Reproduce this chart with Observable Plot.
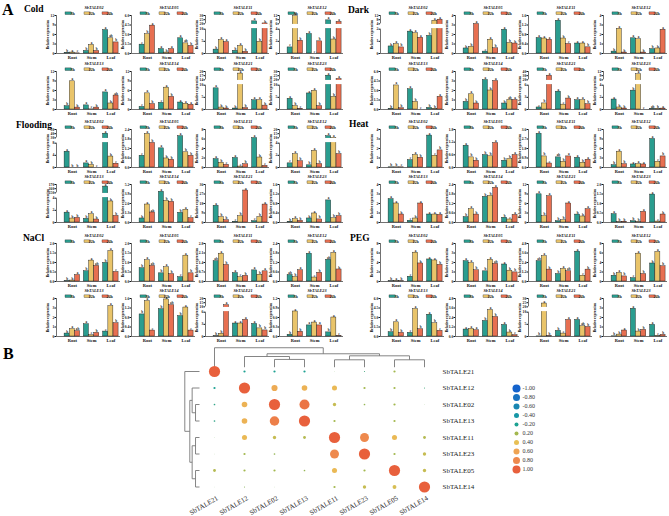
<!DOCTYPE html>
<html><head><meta charset="utf-8">
<script src="https://cdn.jsdelivr.net/npm/d3@7"></script>
<script src="https://cdn.jsdelivr.net/npm/@observablehq/plot@0.6"></script>
<style>
body{margin:0;background:#fff;}
#root{position:relative;width:669px;height:516px;overflow:hidden;font-family:"Liberation Serif",serif;background:#fff;}
#root svg{position:absolute;}
.lab{position:absolute;font-weight:bold;line-height:1;white-space:nowrap;font-family:"Liberation Serif",serif;}
</style></head><body><div id="root"></div>
<script>
const tissues = ["Root", "Stem", "Leaf"];
const times = ["3h", "12h", "24h"];
const timeColors = ["#2a9d8f", "#e9c46a", "#e76f51"];
const genes = ["SbTALE02","SbTALE05","SbTALE11","SbTALE12","SbTALE13","SbTALE14","SbTALE21","SbTALE23"];

// each chart: [Root 3h,12h,24h, Stem 3h,12h,24h, Leaf 3h,12h,24h]
const coldValues = [
  [0.2,0.3,0.05, 0.8,2.7,0.8, 7.4,4.8,3.5],
  [1.4,3.05,4.4, 0.7,0.15,0.7, 2.4,1.6,1.2],
  [1.6,5.5,4.7, 1.1,3.1,0.7, 23,4.8,20.5],
  [1.0,11.5,2.1, 3.2,0,2.0, 8.5,2.3,7.4],
  [1.05,8.9,0.6, 1.3,0.05,0.6, 5.4,1.9,4.4],
  [0.8,5.1,1.7, 2.1,6.9,4.0, 2.2,1.8,1.5],
  [8.7,0.8,0.4, 0.4,18.5,0.6, 3.8,3.8,1.6],
  [4.4,1.4,0.3, 6.6,7.7,1.4, 25,5.2,21]
];
const coldAxes = [
  [0,3,6,9,12], [0,1.5,3,4.5,6], {low:[0,5,10], high:[20,25,30]}, {low:[0,2,4], high:[6,9,12]},
  [0,3,6,9,12], [0,3,6,9,12], {low:[0,5,10], high:[14,17,20]}, {low:[0,5,10], high:[20,25,30]}
];
const coldLetters = [
  "b a c b a b a ab b", "c b a a b a a ab b", "b a a b a b a b b", "c a b a c b a b a",
  "b a b a c b a b ab", "c a b c a b a a a", "a b b b a b a a b", "a b c a a b a b a"
];

const darkValues = [
  [0.58,0.77,0.5, 1.8,1.67,1.3, 1.45,7,8],
  [0.53,0.7,3.1, 0.2,1.45,0.55, 2.5,1.1,1.05],
  [0.65,0.63,0.58, 1.38,0.63,0.4, 0.42,0.42,0.26],
  [0.2,2.6,0.1, 1.6,1.5,0.1, 0.46,0.53,2.5],
  [0.1,3.8,0.2, 3.2,1.2,0, 0.25,0.1,2.0],
  [0.8,1.6,0.63, 3.1,2.0,3.0, 0.63,1.0,1.0],
  [0.5,1.5,30, 4.4,1.2,2.7, 2.3,2.3,1.3],
  [1.64,0.33,0.16, 3.1,10,0, 0.1,0.1,0.15]
];
const darkAxes = [
  {low:[0,1,2], high:[4,8,12]}, [0,1,2,3,4], [0,0.4,0.8,1.2,1.6], [0,1,2,3,4],
  [0,1.5,3,4.5,6], [0,1,2,3,4], {low:[0,3,6], high:[20,30,40]}, {low:[0,2,4], high:[6,9,12]}
];
const darkLetters = [
  "b a b a a a b a a", "b b a c a b a b b", "a a a a b c a a b", "b a b a a b b b a",
  "b a b a b c b b a", "b a b a b a b ab a", "c b a a c b a a b", "a b b b a c ab b a"
];

const floodingValues = [
  [5.2,0,0, 1.35,0.83,0, 40,3.6,1.25],
  [0.74,2.12,1.55, 1.21,0.57,0.49, 1.98,0.96,0.74],
  [1.77,1.0,0.57, 2.0,0.2,0.7, 6.2,2.1,0.35],
  [0.68,2.2,1.04, 0.36,2.75,0.57, 12,10,2.2],
  [1.62,0.65,0.76, 0.6,1.35,0.49, 165,3.46,1.08],
  [0.55,2.46,1.37, 4.2,2.96,2.83, 1.32,1.73,0.6],
  [15.8,5.1,2.2, 0.6,6.0,30.3, 1.3,5.1,17],
  [0.03,0.14,0.07, 0.17,0.38,0.13, 0.93,0.18,0.27]
];
const floodingAxes = [
  {low:[0,4,8], high:[30,40,50]}, [0,0.6,1.2,1.8,2.4], [0,2,4,6,8], {low:[0,2,4], high:[10,15,20]},
  {low:[0,2,4], high:[150,160,170]}, [0,1.3,2.6,3.9,5.2], [0,9,18,27,36], [0,0.4,0.8,1.2,1.6]
];
const floodingLetters = [
  "a b b a b c a b c", "c a b a b b a b b", "a b c a c b a b c", "c a b b a b a a b",
  "a b b b a b a b b", "b a ab a b b b a c", "a b b c b a c b a", "b a b b a b a b b"
];

const heatValues = [
  [0.02,0.02,0.02, 0.78,1.31,1.03, 3.36,1.24,1.8],
  [1.03,0.48,0.32, 0.59,0.53,1.16, 0.32,0.4,0.59],
  [3.19,1.05,0.38, 0.96,0.54,1.05, 0.92,0.45,0.73],
  [0.74,5.0,1.06, 0.96,1.06,0.96, 9.0,1.8,3.5],
  [2.46,2.0,0.84, 0.18,0.42,2.0, 0.84,0.84,0.8],
  [0.34,0.84,0.5, 1.62,1.68,2.19, 0.3,0.19,0.48],
  [8.9,2.0,8.3, 0.42,0.74,6.0, 2.5,1.9,4.2],
  [0.44,0.02,0.04, 0.07,0.02,0.56, 1.47,0.05,0.42]
];
const heatAxes = [
  [0,1,2,3,4], [0,0.6,1.2,1.8], [0,0.9,1.8,2.7,3.6], [0,3,6,9,12],
  [0,1,2,3,4], [0,0.6,1.2,1.8,2.4], [0,3,6,9,12], [0,0.5,1,1.5,2]
];
const heatLetters = [
  "b b c c a b a c b", "a b b b b a b b a", "a b c ab b a a b a", "b a b a a a a c b",
  "a a b c b a a a a", "b a b b b a b c a", "a b a b b a b b a", "a b b b b a a c b"
];

const naclValues = [
  [0.02,0.05,0.34, 0.54,1.1,0.82, 0.98,1.6,0.5],
  [0.7,1.12,0.82, 0.43,0.75,0.39, 0.23,1.36,0.43],
  [1.5,2.05,1.22, 0.62,0.32,0.42, 0.82,0.5,0.75],
  [0.41,0.28,0.71, 1.75,0.25,0.55, 1.37,1.8,0.76],
  [0.31,0.77,0.56, 1.29,0.14,0.38, 0.52,3.2,1.4],
  [0.93,1.49,0.25, 1.15,1.56,1.32, 0.86,1.22,0.25],
  [0.05,0.69,12, 3.2,3.2,4.1, 3.1,2.0,1.5],
  [0.055,0.79,0.15, 0.35,0.44,0.35, 0.13,0.6,0.02]
];
const naclAxes = [
  [0,0.5,1,1.5,2], [0,0.5,1,1.5,2], [0,0.7,1.4,2.1,2.8], [0,0.6,1.2,1.8,2.4],
  [0,1,2,3,4], [0,0.4,0.8,1.2,1.6], {low:[0,3,6], high:[10,15,20]}, [0,0.3,0.6,0.9,1.2]
];
const naclLetters = [
  "b b a b a ab b a c", "b a ab b a b c a b", "ab a b a c b a b a", "ab b a a c b ab a b",
  "b a ab a c b c a b", "b a c b a ab b a c", "b b a a a a a b b", "b a b a a a b a c"
];

const pegValues = [
  [0.05,0.1,0.05, 1.0,6.07,3.8, 4.64,4.43,3.5],
  [2.14,1.93,1.18, 1.07,2.29,1.86, 1.79,1.14,0.96],
  [2.57,3.2,1.5, 0.94,1.59,1.29, 3.77,0.73,1.5],
  [1.21,1.79,1.07, 0.71,5.86,1.57, 3.79,6.2,3.2],
  [0.68,2.24,0.57, 0.57,4.33,1.15, 3.44,2.09,0.89],
  [0.88,0.96,0.79, 1.96,3.34,2.46, 1.46,0.5,0.17],
  [0.05,24,0.2, 2.3,1.2,6.8, 6.8,4.2,3.9],
  [0.02,0.2,0.63, 2.92,0.52,0.7, 1.22,0.05,0.17]
];
const pegAxes = [
  [0,2,4,6,8], [0,1,2,3,4], [0,1.2,2.4,3.6,4.8], [0,2,4,6,8],
  [0,1.5,3,4.5,6], [0,1.2,2.4,3.6,4.8], {low:[0,5,10], high:[20,25,30]}, [0,1,2,3,4]
];
const pegLetters = [
  "b a b c a b a a b", "a a b b a ab a b b", "ab a b b a ab a c b", "b a b c a b b a b",
  "b a b c a b a b c", "a a a b a b a b c", "b a b b c a a ab b", "b b a a b b a c b"
];

// Panel B: correlation matrix (rows and columns in the same order)
const corrGenes = ["SbTALE21","SbTALE12","SbTALE02","SbTALE13","SbTALE11","SbTALE23","SbTALE05","SbTALE14"];
const corrRows = [
  [1.0,-0.2,-0.2,-0.2,0.05,-0.1,0.2,0],
  [-0.2,1.0,0.55,0.5,0.45,0.2,0.2,-0.1],
  [-0.15,0.5,1.0,0.9,0.3,0.15,0.2,0.05],
  [-0.15,0.5,0.85,1.0,0.2,0,0.2,0],
  [0.05,0.45,0.3,0.25,1.0,0.8,0.45,0.25],
  [0.05,0.2,0.15,0,0.8,1.0,0.2,0.3],
  [0.25,0.2,0.2,0.15,0.45,0.2,1.0,0.3],
  [0.03,0.1,0.05,0,0.2,0.3,0.35,1.0]
];
const colTree = {h:1, c:[0,{h:0.69,c:[{h:0.55,c:[1,{h:0.40,c:[2,3]}]},{h:0.585,c:[{h:0.38,c:[4,5]},{h:0.38,c:[6,7]}]}]}]};
const rowTree = {h:1, c:[0,{h:0.66,c:[{h:0.50,c:[1,{h:0.27,c:[2,3]}]},{h:0.50,c:[{h:0.27,c:[4,5]},{h:0.27,c:[6,7]}]}]}]};
const legendValues = [-1,-0.8,-0.6,-0.4,-0.2,0.2,0.4,0.6,0.8,1];
const legendLabels = ["-1.00","-0.80","-0.60","-0.40","-0.20","0.20","0.40","0.60","0.80","1.00"];
const corrColorDomain = [-1,-0.8,-0.6,-0.4,-0.2,0,0.2,0.4,0.6,0.8,1];
const corrColorRange = ["#1463cc","#1872c2","#1886b2","#1797a6","#1da292","#6fae6c","#a3b84f","#e8c055","#efa453","#ee894d","#e8603c"];

// ---------- layout ----------
const root = document.getElementById("root");
const ML = 14, MR = 6, MT = 10, MB = 8, PH = 38, W = 84;
const leftAxes = [56, 131, 205, 279];
const rightAxes = [380, 455, 528, 603];
const rowTops = [14.7, 71.3, 129, 184.3, 242.7, 298.3];
const FONT = "Liberation Serif";

function addChart(gene, vals, axis, letterStr, axisX, plotTop) {
  const letters = letterStr.split(" ");
  const broken = !Array.isArray(axis);
  let t, ticks, segs, band = null;
  if (broken) {
    const L = axis.low[axis.low.length - 1], H1 = axis.high[0], H2 = axis.high[axis.high.length - 1];
    t = v => v <= L ? 0.64 * v / L : v < H1 ? 0.64 + 0.14 * (v - L) / (H1 - L) : 0.78 + 0.22 * (v - H1) / (H2 - H1);
    ticks = axis.low.concat(axis.high);
    segs = [[0, 0.64], [0.78, 1]];
    band = [0.655, 0.765];
  } else {
    const M = axis[axis.length - 1];
    t = v => v / M;
    ticks = axis;
    segs = [[0, 1]];
  }
  const dec = ticks.some(v => !Number.isInteger(v));
  const fmt = v => dec ? v.toFixed(1) : String(v);
  const tickPos = ticks.map(t);
  const labelOf = new Map(tickPos.map((p, i) => [p, fmt(ticks[i])]));
  const data = vals.map((v, k) => ({tissue: Math.floor(k / 3), time: k % 3, y: Math.min(t(v), 1), letter: letters[k]}));
  const cx = d => d.tissue + (d.time - 1) * 0.27;
  const marks = [
    Plot.rect(data, {x1: d => cx(d) - 0.13, x2: d => cx(d) + 0.13, y1: () => 0, y2: "y",
      fill: "time", stroke: "#111", strokeWidth: 0.4}),
  ];
  if (band) marks.push(Plot.rect([band], {y1: d => d[0], y2: d => d[1], fill: "white"}));
  marks.push(
    Plot.ruleX(segs, {x: () => -0.82, y1: d => d[0], y2: d => d[1], stroke: "#111", strokeWidth: 0.6}),
    Plot.ruleY([0], {stroke: "#111", strokeWidth: 0.6}),
    Plot.axisY({ticks: tickPos, tickFormat: p => labelOf.get(p), tickSize: 1.5, tickPadding: 0.8,
      label: "Relative expression", labelAnchor: "center", labelOffset: 10, labelArrow: "none", fontSize: 3.6}),
    Plot.axisX({ticks: [0, 1, 2], tickFormat: i => tissues[i], tickSize: 0, tickPadding: 2.2, label: null, fontSize: 4.5}),
    Plot.text(data, {x: cx, y: "y", text: "letter", dy: -2, fontSize: 3.3, fill: "#111"})
  );
  const svgEl = Plot.plot({
    width: W, height: PH + MT + MB,
    marginLeft: ML, marginRight: MR, marginTop: MT, marginBottom: MB,
    x: {type: "linear", domain: [-0.82, 2.5]},
    y: {type: "linear", domain: [0, 1]},
    color: {type: "ordinal", domain: [0, 1, 2], range: timeColors},
    style: {background: "transparent", fontFamily: FONT, fontWeight: "bold", fontSize: "4px", color: "#111", overflow: "visible"},
    marks
  });
  const s = d3.select(svgEl);
  s.append("text").attr("x", ML + 38).attr("y", MT - 5.7).attr("text-anchor", "middle")
    .attr("font-style", "italic").attr("font-weight", "bold").attr("font-size", 4.2).attr("fill", "#111").text(gene);
  const offs = [9, 28, 46];
  times.forEach((tm, j) => {
    const x0 = ML + offs[j];
    s.append("rect").attr("x", x0).attr("y", MT - 3.1).attr("width", 6.5).attr("height", 2.6)
      .attr("fill", timeColors[j]).attr("stroke", "#111").attr("stroke-width", 0.3);
    s.append("text").attr("x", x0 + 7.5).attr("y", MT - 0.4).attr("font-size", 4).attr("font-weight", "bold")
      .attr("fill", "#111").text(tm);
  });
  svgEl.style.left = (axisX - ML) + "px";
  svgEl.style.top = (plotTop - MT) + "px";
  root.appendChild(svgEl);
}

const treatments = [
  {name: "Cold", values: coldValues, axes: coldAxes, letters: coldLetters, cols: leftAxes, row: 0, lx: 24, ly: 5},
  {name: "Dark", values: darkValues, axes: darkAxes, letters: darkLetters, cols: rightAxes, row: 0, lx: 348, ly: 6},
  {name: "Flooding", values: floodingValues, axes: floodingAxes, letters: floodingLetters, cols: leftAxes, row: 2, lx: 16, ly: 121},
  {name: "Heat", values: heatValues, axes: heatAxes, letters: heatLetters, cols: rightAxes, row: 2, lx: 349, ly: 120},
  {name: "NaCl", values: naclValues, axes: naclAxes, letters: naclLetters, cols: leftAxes, row: 4, lx: 23, ly: 234},
  {name: "PEG", values: pegValues, axes: pegAxes, letters: pegLetters, cols: rightAxes, row: 4, lx: 350, ly: 234}
];

treatments.forEach(tr => {
  genes.forEach((g, k) => {
    addChart(g, tr.values[k], tr.axes[k], tr.letters[k], tr.cols[k % 4], rowTops[tr.row + Math.floor(k / 4)]);
  });
  const d = document.createElement("div");
  d.className = "lab";
  d.style.left = tr.lx + "px"; d.style.top = tr.ly + "px"; d.style.fontSize = "9.5px";
  d.textContent = tr.name;
  root.appendChild(d);
});

[["A", 2, 2], ["B", 3, 346]].forEach(([txt, x, y]) => {
  const d = document.createElement("div");
  d.className = "lab";
  d.style.left = x + "px"; d.style.top = y + "px"; d.style.fontSize = "16px";
  d.textContent = txt;
  root.appendChild(d);
});

// ---------- Panel B ----------
function dendro(tree, place) {
  const segs = [];
  function walk(n) {
    if (typeof n === "number") return {p: n, h: 0};
    const kids = n.c.map(walk);
    kids.forEach(k => segs.push([place(k.p, k.h), place(k.p, n.h)]));
    segs.push([place(kids[0].p, n.h), place(kids[kids.length - 1].p, n.h)]);
    return {p: (kids[0].p + kids[kids.length - 1].p) / 2, h: n.h};
  }
  walk(tree);
  return segs;
}
const topSegs = dendro(colTree, (p, h) => [p, -0.26 - 1.18 * h]);
const leftSegs = dendro(rowTree, (p, h) => [-0.5 - 0.49 * h, p]);
const links = topSegs.concat(leftSegs);
const cells = [];
corrRows.forEach((row, r) => row.forEach((v, c) => cells.push({r, c, v})));

const BH = 176;
const panelB = Plot.plot({
  width: 669, height: BH, margin: 0,
  x: {type: "linear", domain: [-214 / 30, (669 - 214) / 30], range: [0, 669], axis: null},
  y: {type: "linear", domain: [-31 / 16.5, (BH - 31) / 16.5], range: [0, BH], axis: null},
  r: {type: "linear", domain: [0, 1], range: [0, 5.6]},
  color: {type: "linear", domain: corrColorDomain, range: corrColorRange},
  style: {background: "transparent", fontFamily: FONT, fontSize: "7px", color: "#222"},
  marks: [
    Plot.link(links, {x1: d => d[0][0], y1: d => d[0][1], x2: d => d[1][0], y2: d => d[1][1], stroke: "#777", strokeWidth: 0.9}),
    Plot.dot(cells, {x: "c", y: "r", r: d => Math.abs(d.v), fill: "v", stroke: "none"}),
    Plot.text(corrGenes, {x: () => 7, y: (d, i) => i, dx: 18, text: d => d, textAnchor: "start", fill: "#222"}),
    Plot.text(corrGenes, {x: (d, i) => i, y: () => 7, dx: 3, dy: 10.5, rotate: -30, text: d => d, textAnchor: "end", fill: "#222"})
  ]
});
panelB.style.left = "0px"; panelB.style.top = "340px";
root.appendChild(panelB);

const legendPlot = Plot.plot({
  width: 50, height: 114, margin: 0,
  x: {type: "linear", domain: [0, 1], range: [11, 50], axis: null},
  y: {type: "point", domain: legendLabels, range: [8, 105], axis: null},
  r: {type: "linear", domain: [0.2, 1], range: [2, 4]},
  color: {type: "linear", domain: corrColorDomain, range: corrColorRange},
  style: {background: "transparent", fontFamily: FONT, fontSize: "6px", color: "#333"},
  marks: [
    Plot.dot(legendValues, {x: () => 0, y: (d, i) => legendLabels[i], r: d => Math.abs(d), fill: d => d}),
    Plot.text(legendValues, {x: () => 0, y: (d, i) => legendLabels[i], dx: 6, text: (d, i) => legendLabels[i], textAnchor: "start", fill: "#333"})
  ]
});
legendPlot.style.left = "505px"; legendPlot.style.top = "372px";
root.appendChild(legendPlot);
</script>
</body></html>
